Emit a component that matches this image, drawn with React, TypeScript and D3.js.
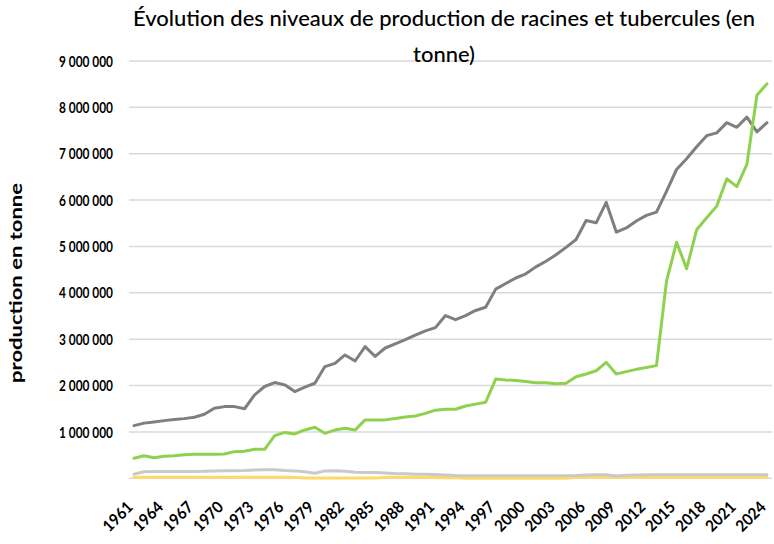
import React from "react";
import * as d3 from "d3";

const years = [
  1961, 1962, 1963, 1964, 1965, 1966, 1967, 1968, 1969, 1970,
  1971, 1972, 1973, 1974, 1975, 1976, 1977, 1978, 1979, 1980,
  1981, 1982, 1983, 1984, 1985, 1986, 1987, 1988, 1989, 1990,
  1991, 1992, 1993, 1994, 1995, 1996, 1997, 1998, 1999, 2000,
  2001, 2002, 2003, 2004, 2005, 2006, 2007, 2008, 2009, 2010,
  2011, 2012, 2013, 2014, 2015, 2016, 2017, 2018, 2019, 2020,
  2021, 2022, 2023, 2024,
];

// values in millions of tonnes
const seriesGray = [
  1.136, 1.19, 1.216, 1.244, 1.266, 1.287, 1.317, 1.38, 1.51, 1.546,
  1.546, 1.5, 1.8, 1.98, 2.065, 2.015, 1.87, 1.965, 2.05, 2.41,
  2.48, 2.66, 2.53, 2.84, 2.63, 2.81, 2.9, 2.99, 3.09, 3.18,
  3.25, 3.51, 3.42, 3.51, 3.62, 3.69, 4.08, 4.2, 4.32, 4.41,
  4.56, 4.68, 4.82, 4.98, 5.15, 5.56, 5.51, 5.95, 5.31, 5.4,
  5.55, 5.67, 5.74, 6.19, 6.66, 6.89, 7.15, 7.39, 7.45, 7.67,
  7.57, 7.79, 7.47, 7.67,
];

const seriesGreen = [
  0.432, 0.488, 0.445, 0.475, 0.488, 0.51, 0.518, 0.518, 0.518, 0.525,
  0.575, 0.583, 0.626, 0.626, 0.92, 0.99, 0.957, 1.043, 1.1, 0.97,
  1.04, 1.08, 1.04, 1.26, 1.26, 1.26, 1.29, 1.32, 1.345, 1.4,
  1.47, 1.49, 1.49, 1.56, 1.6, 1.64, 2.14, 2.12, 2.11, 2.09,
  2.06, 2.06, 2.04, 2.05, 2.19, 2.25, 2.32, 2.5, 2.25, 2.3,
  2.35, 2.39, 2.43, 4.25, 5.09, 4.52, 5.36, 5.62, 5.87, 6.46,
  6.29, 6.77, 8.26, 8.51,
];

const seriesLightGray = [
  0.09, 0.14, 0.145, 0.145, 0.145, 0.145, 0.145, 0.15, 0.16, 0.165,
  0.165, 0.17, 0.18, 0.185, 0.185, 0.17, 0.16, 0.14, 0.11, 0.16,
  0.165, 0.15, 0.13, 0.125, 0.125, 0.115, 0.105, 0.1, 0.09, 0.09,
  0.08, 0.07, 0.06, 0.055, 0.055, 0.055, 0.055, 0.055, 0.055, 0.055,
  0.055, 0.055, 0.055, 0.055, 0.06, 0.07, 0.075, 0.075, 0.05, 0.065,
  0.07, 0.075, 0.075, 0.075, 0.075, 0.075, 0.075, 0.075, 0.075, 0.075,
  0.075, 0.075, 0.075, 0.075,
];

const seriesYellow = [
  0.02, 0.02, 0.02, 0.02, 0.02, 0.02, 0.02, 0.02, 0.02, 0.02,
  0.02, 0.02, 0.02, 0.02, 0.02, 0.02, 0.02, 0.005, 0.005, 0.005,
  0.005, 0.005, 0.005, 0.005, 0.005, 0.02, 0.02, 0.02, 0.02, 0.02,
  0.015, 0.01, 0.01, 0.0, 0.0, 0.0, 0.0, 0.0, 0.0, 0.0,
  0.0, 0.0, 0.0, 0.0, 0.02, 0.02, 0.02, 0.02, 0.02, 0.02,
  0.02, 0.02, 0.02, 0.02, 0.02, 0.02, 0.02, 0.02, 0.02, 0.02,
  0.02, 0.02, 0.02, 0.02,
];

const yTicks = [0, 1000000, 2000000, 3000000, 4000000, 5000000, 6000000, 7000000, 8000000, 9000000];

const titleLine1 = "Évolution des niveaux de production de racines et tubercules (en";
const titleLine2 = "tonne)";
const yAxisTitle = "production en tonne";

const W = 774;
const H = 544;

const locale = d3.formatLocale({ decimal: ",", thousands: " ", grouping: [3], currency: ["", " €"] });
const fmt = locale.format(",.0f");

export default function App() {
  const x = d3.scaleBand<number>().domain(years).range([129, 772]).padding(0);
  const cx = (yr: number) => (x(yr) as number) + x.bandwidth() / 2;
  const y = d3.scaleLinear().domain([0, 9000000]).range([478.3, 61]);

  const line = d3
    .line<number>()
    .x((_, i) => cx(years[i]))
    .y((d) => y(d * 1e6));

  const xTickYears = years.filter((_, i) => i % 3 === 0);

  const series = [
    { data: seriesYellow, color: "#ffd966" },
    { data: seriesLightGray, color: "#c9c9c9" },
    { data: seriesGray, color: "#7f7f7f" },
    { data: seriesGreen, color: "#8fd14f" },
  ];

  const font = "Lato, 'Open Sans', sans-serif";

  return (
    <div style={{ position: "absolute", left: 0, top: 0 }}>
      <svg width={W} height={H} style={{ display: "block", background: "#fff" }}>
        {/* gridlines */}
        {yTicks.map((t) => (
          <line key={t} x1={129} x2={772} y1={y(t)} y2={y(t)} stroke="#d9d9d9" strokeWidth={1.5} />
        ))}
        {/* y tick labels */}
        {yTicks.slice(1).map((t) => (
          <text
            key={t}
            x={113}
            y={y(t)}
            dy="0.36em"
            textAnchor="end"
            fontFamily={font}
            fontWeight={700}
            fontSize={15.5}
            fill="#000"
            textLength={54}
            lengthAdjust="spacingAndGlyphs"
          >
            {fmt(t)}
          </text>
        ))}
        {/* series */}
        {series.map((s, i) => (
          <path
            key={i}
            d={line(s.data) as string}
            fill="none"
            stroke={s.color}
            strokeWidth={3}
            strokeLinejoin="round"
            strokeLinecap="round"
          />
        ))}
        {/* x tick labels */}
        {xTickYears.map((yr) => (
          <text
            key={yr}
            transform={`translate(${cx(yr)},${508}) rotate(-45)`}
            textAnchor="end"
            fontFamily={font}
            fontWeight={700}
            fontSize={16}
            fill="#000"
            textLength={35}
            lengthAdjust="spacingAndGlyphs"
          >
            {yr}
          </text>
        ))}
        {/* y axis title */}
        <text
          transform={`translate(22,283) rotate(-90)`}
          textAnchor="middle"
          fontFamily={font}
          fontWeight={700}
          fontSize={17}
          fill="#000"
          textLength={200}
          lengthAdjust="spacingAndGlyphs"
        >
          {yAxisTitle}
        </text>
        {/* title */}
        <text x={444} y={26} textAnchor="middle" fontFamily={font} fontWeight={500} fontSize={21} fill="#000" textLength={622} lengthAdjust="spacingAndGlyphs">
          {titleLine1}
        </text>
        <text x={444} y={62} textAnchor="middle" fontFamily={font} fontWeight={500} fontSize={21} fill="#000" textLength={62} lengthAdjust="spacingAndGlyphs">
          {titleLine2}
        </text>
      </svg>
    </div>
  );
}
